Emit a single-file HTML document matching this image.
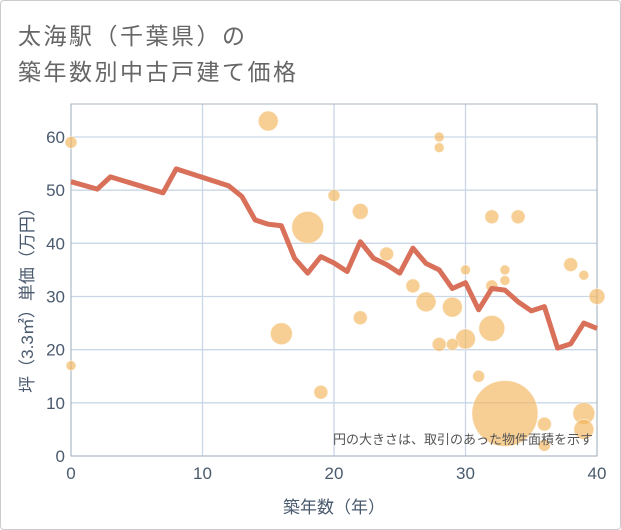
<!DOCTYPE html>
<html><head><meta charset="utf-8"><style>
body{margin:0;background:#fff;}
#wrap{position:relative;width:621px;height:530px;overflow:hidden;}
.t{position:absolute;left:18px;font:23px "Liberation Sans","Noto Sans CJK JP",sans-serif;color:#666;letter-spacing:2.5px;white-space:nowrap;}
</style></head><body>
<div id="wrap">
<div style="position:absolute;left:0;top:0;width:619px;height:528px;border:1px solid #ccc;border-radius:4px;"></div>
<div class="t" style="top:17px">太海駅（千葉県）の</div>
<div class="t" style="top:53px">築年数別中古戸建て価格</div>
<svg id="c" width="621" height="530" style="position:absolute;left:0;top:0"></svg>
</div>
<script>
const lineX=[0,2,3,7,8,12,13,14,15,16,17,18,19,20,21,22,23,24,25,26,27,28,29,30,31,32,33,34,35,36,37,38,39,40];
const lineY=[51.6,50.2,52.5,49.5,54,50.8,48.8,44.4,43.6,43.3,37.2,34.4,37.5,36.3,34.7,40.3,37.2,36,34.4,39.1,36.2,35,31.5,32.6,27.5,31.5,31.2,29,27.3,28.1,20.3,21.1,25,24];
const bubX=[15,0,20,18,16,0,19,28,28,22,32,34,24,30,33,33,38,39,26,27,29,32,40,22,32,30,28,29,31,33,39,39,36,36];
const bubY=[63,59,49,43,23,17,12,60,58,46,45,45,38,35,35,33,36,34,32,29,28,32,30,26,24,22,21,21,15,8,8,5,6,2];
const bubR=[10,6,6,16,11,5,7,5,5,8,7,7,7,5,5,5,7,5,7,10,10,6,8,7,13,10,7,6,6,33,11,10,7,6];
const xTicks=[0,10,20,30,40];
const yTicks=[0,10,20,30,40,50,60];
const L=71,R=597,T=104,B=456;
const sx=v=>L+(v-0)/40*(R-L);
const sy=v=>B-v/60*(B-137);
const svg=document.getElementById('c');
const NS='http://www.w3.org/2000/svg';
function mk(tag,attrs){const e=document.createElementNS(NS,tag);for(const k in attrs)e.setAttribute(k,attrs[k]);svg.appendChild(e);return e;}
const font='"Liberation Sans","Noto Sans CJK JP",sans-serif';
yTicks.forEach(v=>{
 const g=mk('line',{x1:L,x2:R,y1:sy(v),y2:sy(v),stroke:'#c9d7e6','stroke-width':1.3});
 
 
 const t=mk('text',{x:L-6,y:sy(v)+6,'text-anchor':'end','font-size':17,fill:'#4a5a6e','font-family':font});
 t.textContent=v;
 
 
});
xTicks.forEach(v=>{
 const g=mk('line',{x1:sx(v),x2:sx(v),y1:T,y2:B,stroke:'#c9d7e6','stroke-width':1.3});
 
 
 const t=mk('text',{x:sx(v),y:B+23,'text-anchor':'middle','font-size':17,fill:'#4a5a6e','font-family':font});
 t.textContent=v;
 
 
});
const fr=mk('rect',{x:L,y:T,width:R-L,height:B-T,fill:'none',stroke:'#aab4bf','stroke-width':1});


bubX.forEach((x,i)=>{
 const c=mk('circle',{cx:sx(x),cy:sy(bubY[i]),r:bubR[i],fill:'#f2b65a','fill-opacity':0.65,stroke:'#fff','stroke-opacity':0.5,'stroke-width':1});
 
 
});
const p=mk('polyline',{points:lineX.map((x,i)=>sx(x)+','+sy(lineY[i])).join(' '),fill:'none',stroke:'#d8705a','stroke-width':5,'stroke-linejoin':'round'});


const n=mk('text',{x:593,y:444,'text-anchor':'end','font-size':13,fill:'#555','font-family':font});
n.textContent='円の大きさは、取引のあった物件面積を示す';


const xl=mk('text',{x:334,y:513,'text-anchor':'middle','font-size':17,fill:'#4a5a6e','font-family':font});
xl.textContent='築年数（年）';


const yl=mk('text',{x:0,y:0,'text-anchor':'middle','font-size':17,fill:'#4a5a6e','font-family':font,transform:'translate(33,296) rotate(-90)'});
yl.textContent='坪（3.3㎡）単価（万円）';


</script>
</body></html>
